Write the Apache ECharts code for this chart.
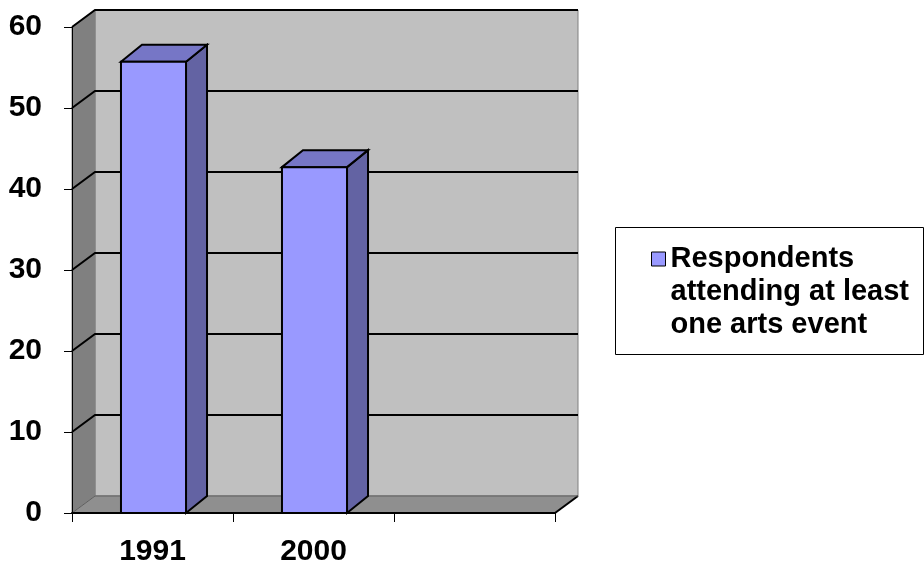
<!DOCTYPE html>
<html>
<head>
<meta charset="utf-8">
<script src="https://cdn.jsdelivr.net/npm/echarts@6/dist/echarts.min.js"></script>
<style>
html,body{margin:0;padding:0;background:#fff;}
#chart{width:924px;height:567px;}
</style>
</head>
<body>
<div id="chart"></div>
<script>
// ---- data ----
const categories = ['1991', '2000', ''];
const attendance = [55.7, 42.7];
const yTicks = [0, 10, 20, 30, 40, 50, 60];
const legendLines = ['Respondents', 'attending at least', 'one arts event'];
const seriesName = legendLines.join(' ');

// ---- style ----
const FONT = 'Arial, "Liberation Sans", sans-serif';
const WALL_DX = 23, WALL_DY = -17;
const BAR_DX = 21, BAR_DY = -17;
const FRONT = '#9999ff', TOP = '#7676c6', SIDE = '#6363a3';
const LEG_LH = 33;

const chart = echarts.init(document.getElementById('chart'), null, {renderer: 'canvas'});

function renderWalls(params, api) {
  const cs = params.coordSys;
  const x = cs.x, y = cs.y, w = cs.width, h = cs.height;
  const ch = [];
  ch.push({type: 'polygon', shape: {points: [[x + WALL_DX, y + WALL_DY], [x + w + WALL_DX, y + WALL_DY], [x + w + WALL_DX, y + h + WALL_DY], [x + WALL_DX, y + h + WALL_DY]]},
    style: {fill: '#c0c0c0', stroke: '#808080', lineWidth: 1}});
  ch.push({type: 'polygon', shape: {points: [[x, y], [x + WALL_DX, y + WALL_DY], [x + WALL_DX, y + h + WALL_DY], [x, y + h]]},
    style: {fill: '#808080', stroke: '#808080', lineWidth: 1}});
  ch.push({type: 'polygon', shape: {points: [[x, y + h], [x + WALL_DX, y + h + WALL_DY], [x + w + WALL_DX, y + h + WALL_DY], [x + w, y + h]]},
    style: {fill: '#8f8f8f', stroke: '#8f8f8f', lineWidth: 1}});
  ch.push({type: 'line', shape: {x1: x + w, y1: y + h, x2: x + w + WALL_DX, y2: y + h + WALL_DY},
    style: {stroke: '#000', lineWidth: 2}});
  yTicks.forEach(function (v) {
    const yy = api.coord([0, v])[1];
    const isZero = v === 0;
    ch.push({type: 'polyline', shape: {points: [[x, yy], [x + WALL_DX, yy + WALL_DY], [x + w + WALL_DX, yy + WALL_DY]]},
      style: {stroke: isZero ? '#606060' : '#000', lineWidth: isZero ? 1 : 2, fill: null}});
  });
  return {type: 'group', children: ch};
}

function renderBar(params, api) {
  const idx = api.value(0), v = api.value(1);
  const base = api.coord([idx, 0]);
  const top = api.coord([idx, v]);
  const bw = api.size([1, 0])[0] * 0.404;
  const xl = base[0] - bw / 2 + 1, xr = xl + bw;
  const yb = base[1], yt = top[1];
  const st = {stroke: '#000', lineWidth: 2, lineJoin: 'miter'};
  return {type: 'group', children: [
    {type: 'polygon', shape: {points: [[xr, yt], [xr + BAR_DX, yt + BAR_DY], [xr + BAR_DX, yb + BAR_DY], [xr, yb]]},
      style: Object.assign({fill: SIDE}, st)},
    {type: 'polygon', shape: {points: [[xl, yt], [xl + BAR_DX, yt + BAR_DY], [xr + BAR_DX, yt + BAR_DY], [xr, yt]]},
      style: Object.assign({fill: TOP}, st)},
    {type: 'rect', shape: {x: xl, y: yt, width: bw, height: yb - yt},
      style: Object.assign({fill: FRONT}, st)}
  ]};
}

const option = {
  animation: false,
  backgroundColor: '#fff',
  grid: {left: 72, top: 27, width: 483, height: 489, containLabel: false},
  xAxis: {
    type: 'category', data: categories, z: 10,
    axisLine: {show: true, lineStyle: {color: '#000', width: 2}},
    axisTick: {show: true, length: 9, lineStyle: {color: '#000', width: 1}},
    axisLabel: {color: '#000', fontSize: 30, fontWeight: 'bold', fontFamily: FONT, margin: 24},
    splitLine: {show: false}
  },
  yAxis: {
    type: 'value', min: 0, max: 60, interval: 10, z: 10,
    axisLine: {show: true, lineStyle: {color: '#000', width: 1}},
    axisTick: {show: true, length: 8, lineStyle: {color: '#000', width: 1}},
    axisLabel: {color: '#000', fontSize: 30, fontWeight: 'bold', fontFamily: FONT, margin: 30},
    splitLine: {show: false}
  },
  legend: {
    data: [seriesName], selectedMode: false,
    left: 651, top: 259 - 2.5 * LEG_LH, padding: 0, z: 20,
    icon: 'rect', itemWidth: 14, itemHeight: 14,
    itemStyle: {color: FRONT, borderColor: '#000', borderWidth: 1},
    formatter: function () { return '\n\n' + legendLines.join('\n'); },
    textStyle: {color: '#000', fontSize: 29, fontWeight: 'bold', fontFamily: FONT, lineHeight: LEG_LH}
  },
  graphic: [{
    type: 'rect', left: 615, top: 227, z: 0,
    shape: {x: 0.5, y: 0.5, width: 308, height: 127},
    style: {fill: '#fff', stroke: '#000', lineWidth: 1}
  }],
  series: [
    {
      type: 'custom', name: '_walls', silent: true, z: 1,
      renderItem: renderWalls, data: [[0, 0]], encode: {x: 0, y: 1}
    },
    {
      type: 'custom', name: seriesName, silent: true, z: 3,
      itemStyle: {color: FRONT},
      renderItem: renderBar,
      data: attendance.map(function (v, i) { return [i, v]; }),
      encode: {x: 0, y: 1}
    }
  ]
};
chart.setOption(option);
</script>
</body>
</html>
